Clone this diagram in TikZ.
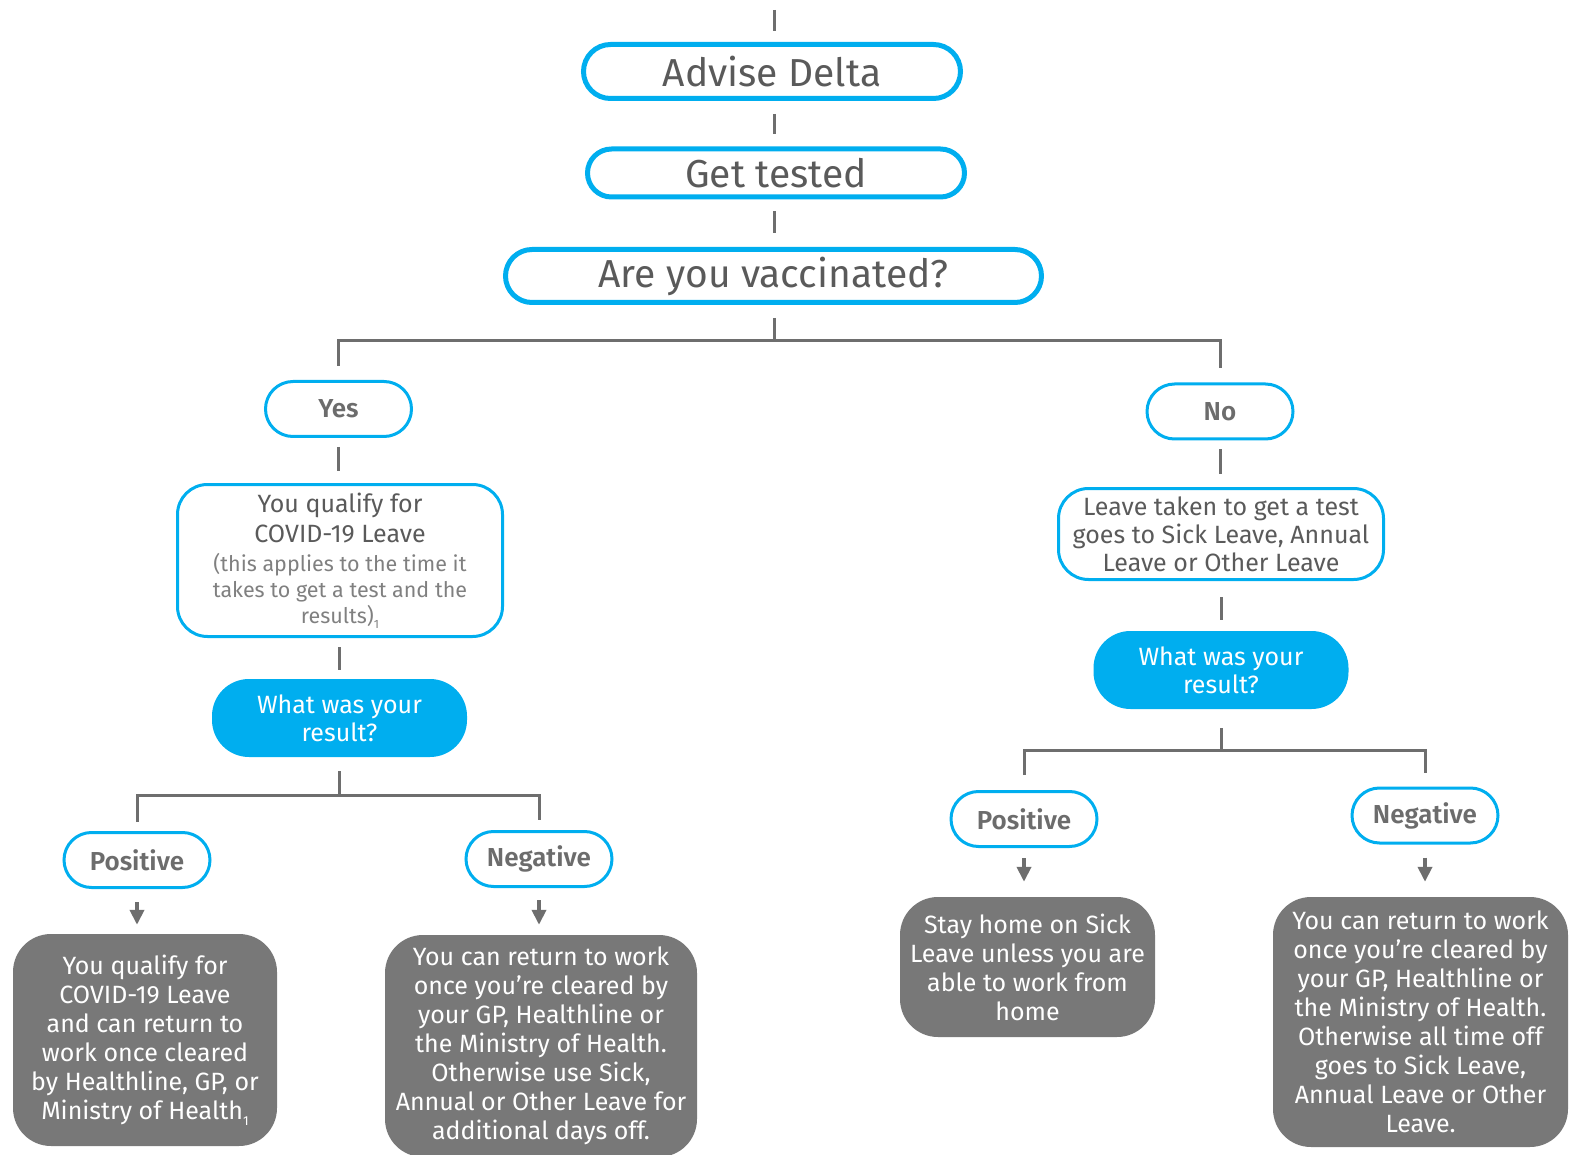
\documentclass[tikz,border=0pt]{standalone}
\usepackage{fontspec}
\setmainfont{Fira Sans}
\newfontfamily\labelfont{Fira Sans SemiBold}
\usetikzlibrary{arrows.meta,calc}
\definecolor{dblue}{HTML}{00AEEF}
\definecolor{txtgrey}{HTML}{5A5A5A}
\definecolor{labgrey}{HTML}{6C6C6C}
\definecolor{lightgrey}{HTML}{808080}
\definecolor{linegrey}{HTML}{6E6E6E}
\definecolor{boxgrey}{HTML}{787878}
\newcommand{\smalltxt}{\color{lightgrey}\fontsize{21.5}{26}\selectfont}
\newcommand{\subone}[1]{\raisebox{-0.45ex}{\fontsize{#1}{#1}\selectfont 1}}
\begin{document}
\begin{tikzpicture}[x=1pt,y=-1pt,
  bigpill/.style={draw=dblue, line width=5pt, text=txtgrey, inner sep=0pt,
    font=\fontsize{39}{42}\selectfont},
  smallpill/.style={draw=dblue, line width=3pt, text=labgrey, inner sep=0pt,
    font=\labelfont\fontsize{26}{28}\selectfont, minimum width=146pt,
    minimum height=55pt, rounded corners=27.5pt},
  infobox/.style={draw=dblue, line width=3pt, text=txtgrey, inner sep=0pt,
    align=center, rounded corners=30pt, font=\fontsize{25}{28}\selectfont},
  qbox/.style={fill=dblue, text=white, inner sep=0pt, align=center,
    rounded corners=37pt, minimum width=255pt, minimum height=78pt,
    font=\fontsize{25}{28}\selectfont},
  endbox/.style={fill=boxgrey, text=white, inner sep=0pt, align=center,
    rounded corners=38pt, font=\fontsize{25}{29}\selectfont},
  conn/.style={draw=linegrey, line width=3pt},
  arr/.style={draw=linegrey, line width=4pt, -{Triangle[length=15pt,width=14pt]}}
]
\useasboundingbox (0,0) rectangle (1572,1155);

% top column
\node[bigpill, minimum width=377pt, minimum height=54pt, rounded corners=27pt] (adv) at (772,71.5) {Advise Delta};
\node[bigpill, minimum width=377pt, minimum height=48pt, rounded corners=24pt] (get) at (776,173) {Get tested};
\node[bigpill, minimum width=536pt, minimum height=53pt, rounded corners=26.5pt] (vacc) at (773.5,276) {Are you vaccinated?};
\coordinate (spine) at (774,0);
\coordinate (top) at (774,10);

% left branch
\node[smallpill] (yes) at (338.5,409) {Yes};
\node[infobox, minimum width=325pt, minimum height=152pt, font=\fontsize{25}{26}\selectfont] (qual) at (340,560.5)
  {You qualify for\\[4pt]COVID-19 Leave\\[3pt]\smalltxt (this applies to the time it\\\smalltxt takes to get a test and the\\\smalltxt results)\subone{12}};
\node[qbox] (res1) at (339.5,718) {What was your\\result?};
\node[smallpill] (pos1) at (137,860) {Positive};
\node[smallpill] (neg1) at (539,859) {Negative};
\node[endbox, minimum width=264pt, minimum height=212pt] (g1) at (145,1040)
  {You qualify for\\COVID-19 Leave\\and can return to\\work once cleared\\by Healthline, GP, or\\Ministry of Health\subone{13}};
\node[endbox, minimum width=312pt, minimum height=222pt] (g2) at (541,1046)
  {You can return to work\\once you’re cleared by\\your GP, Healthline or\\the Ministry of Health.\\Otherwise use Sick,\\Annual or Other Leave for\\additional days off.};

% right branch
\node[smallpill] (no) at (1220,411.5) {No};
\node[infobox, minimum width=325pt, minimum height=91pt] (leave) at (1221,534)
  {Leave taken to get a test\\goes to Sick Leave, Annual\\Leave or Other Leave};
\node[qbox] (res2) at (1221,670) {What was your\\result?};
\node[smallpill] (pos2) at (1024,819) {Positive};
\node[smallpill] (neg2) at (1425,815.5) {Negative};
\node[endbox, minimum width=255pt, minimum height=140pt] (g3) at (1027.5,967)
  {Stay home on Sick\\Leave unless you are\\able to work from\\home};
\node[endbox, minimum width=295pt, minimum height=250pt] (g4) at (1420.5,1022)
  {You can return to work\\once you’re cleared by\\your GP, Healthline or\\the Ministry of Health.\\Otherwise all time off\\goes to Sick Leave,\\Annual Leave or Other\\Leave.};

% connectors top
\draw[conn, shorten >=11pt] (top) -- (adv.north -| spine);
\draw[conn, shorten <=13pt, shorten >=12pt] (adv.south -| spine) -- (get.north -| spine);
\draw[conn, shorten <=12pt, shorten >=14pt] (get.south -| spine) -- (vacc.north -| spine);
\draw[conn, shorten <=13pt] (vacc.south -| spine) -- ++(0,36) coordinate (b1);
\draw[conn] ($(yes.north)+(0,-14)$) |- (b1) -| ($(no.north)+(0,-14)$);

% left
\draw[conn, shorten <=9pt, shorten >=12pt] (yes.south) -- (yes.south |- qual.north);
\draw[conn, shorten <=9pt, shorten >=9pt] (res1.north |- qual.south) -- (res1.north);
\draw[conn, shorten <=14pt] (res1.south) -- ++(0,38) coordinate (b2);
\draw[conn] ($(pos1.north)+(0,-9)$) |- (b2) -| ($(neg1.north)+(0,-10)$);
\draw[arr, shorten <=13pt, shorten >=9pt] (pos1.south) -- (pos1.south |- g1.north);
\draw[arr, shorten <=12pt, shorten >=10pt] (neg1.south) -- (neg1.south |- g2.north);

% right
\draw[conn, shorten <=9pt, shorten >=13pt] (no.south) -- (no.south |- leave.north);
\draw[conn, shorten <=16pt, shorten >=11pt] (leave.south) -- (leave.south |- res2.north);
\draw[conn, shorten <=19pt] (res2.south) -- ++(0,41) coordinate (b3);
\draw[conn] ($(pos2.north)+(0,-15)$) |- (b3) -| ($(neg2.north)+(0,-14)$);
\draw[arr, shorten <=10pt, shorten >=15pt] (pos2.south) -- (pos2.south |- g3.north);
\draw[arr, shorten <=13pt, shorten >=15pt] (neg2.south) -- (neg2.south |- g4.north);
\end{tikzpicture}
\end{document}
